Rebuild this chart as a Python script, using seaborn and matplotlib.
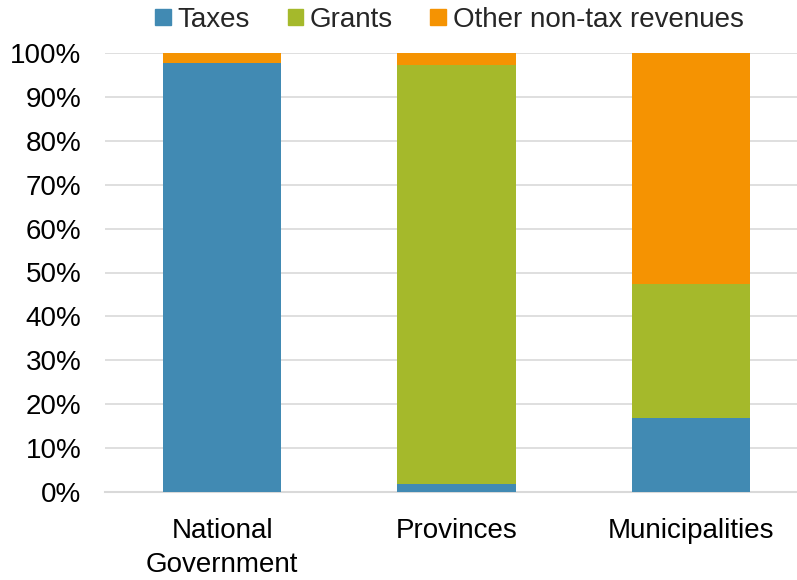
import seaborn as sns
import matplotlib.pyplot as plt
import pandas as pd
from matplotlib.patches import Patch
from matplotlib.ticker import PercentFormatter

# Data (shares of revenue, %)
categories = ['National\nGovernment', 'Provinces', 'Municipalities']
taxes = [97.7, 1.8, 16.8]
grants = [0.0, 95.5, 30.5]
other = [2.3, 2.7, 52.7]

colors = {'Taxes': '#418AB3', 'Grants': '#A5B92B', 'Other non-tax revenues': '#F59302'}

df = pd.DataFrame({'cat': categories, 'Taxes': taxes, 'Grants': grants,
                   'Other non-tax revenues': other})
df['lvl1'] = df['Taxes']
df['lvl2'] = df['Taxes'] + df['Grants']
df['lvl3'] = df['lvl2'] + df['Other non-tax revenues']

sns.set_style('white')
plt.rcParams['font.family'] = ['Liberation Sans', 'DejaVu Sans']

fig = plt.figure(figsize=(7.97, 5.8), dpi=100)
ax = fig.add_axes([105 / 797, 88 / 580, 703 / 797, 439 / 580])

# stacked bars drawn back to front
sns.barplot(data=df, x='cat', y='lvl3', color=colors['Other non-tax revenues'],
            width=0.505, saturation=1, linewidth=0, ax=ax, zorder=2)
sns.barplot(data=df, x='cat', y='lvl2', color=colors['Grants'],
            width=0.505, saturation=1, linewidth=0, ax=ax, zorder=3)
sns.barplot(data=df, x='cat', y='lvl1', color=colors['Taxes'],
            width=0.505, saturation=1, linewidth=0, ax=ax, zorder=4)

ax.set_xlim(-0.5, 2.5)
ax.set_ylim(0, 100)
ax.set_yticks(range(0, 101, 10))
ax.yaxis.set_major_formatter(PercentFormatter(decimals=0))
ax.grid(axis='y', color='#d9d9d9', linewidth=1.2, zorder=0)
ax.set_axisbelow(True)
for s in ['left', 'right', 'top']:
    ax.spines[s].set_visible(False)
ax.spines['bottom'].set_color('#d9d9d9')
ax.spines['bottom'].set_linewidth(1.5)
ax.set_xlabel('')
ax.set_ylabel('')
ax.tick_params(axis='both', labelsize=20, length=0, colors='black')
ax.tick_params(axis='y', pad=17)
ax.tick_params(axis='x', pad=19)
for lbl in ax.get_xticklabels():
    lbl.set_linespacing(1.4)

handles = [Patch(color=c, label=k) for k, c in colors.items()]
fig.legend(handles=handles, loc='center', bbox_to_anchor=(0.564, 0.966), ncol=3,
           frameon=False, fontsize=20, handlelength=0.55, handleheight=0.55,
           handletextpad=0.25, columnspacing=1.35)

fig.savefig('out.png', dpi=100)
